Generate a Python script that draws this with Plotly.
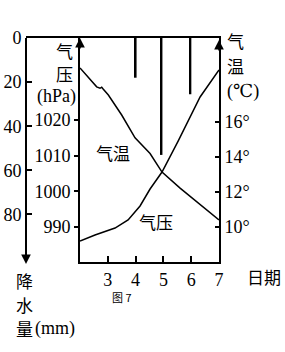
import plotly.graph_objects as go

# ---------------- data ----------------
p_days = [2.0, 2.60, 2.72, 2.78, 2.84, 3.02, 3.50, 3.98, 4.52, 4.95, 5.60, 6.32, 7.0]
pressure = [1034.6, 1029.3, 1028.9, 1029.2, 1028.6, 1027.0, 1021.4, 1015.0, 1010.6, 1005.4, 1000.9, 996.4, 992.0]

t_days = [2.0, 2.54, 3.26, 3.73, 4.16, 4.52, 4.95, 5.34, 5.53, 6.32, 7.0]
temperature = [9.2, 9.54, 9.94, 10.4, 11.2, 12.17, 13.14, 14.29, 14.91, 17.43, 18.97]

rain_days = [4, 4.93, 5.97]
rain_mm = [18, 53, 25.5]

x_ticks = [3, 4, 5, 6, 7]
p_ticks = [990, 1000, 1010, 1020]
t_ticks = [10, 12, 14, 16]
t_labels = ["10°", "12°", "14°", "16°"]
r_ticks = [0, 20, 40, 60, 80]

W, H = 285, 352
def px(x):
    return x / W
def py(y):
    return 1 - y / H

SERIF = "Times New Roman, Liberation Serif, DejaVu Serif, serif"
CJK = "Noto Sans CJK SC"

fig = go.Figure()

fig.add_trace(go.Bar(x=rain_days, y=rain_mm, xaxis="x", yaxis="y3",
                     width=0.07, marker=dict(color="black", line=dict(width=0)),
                     showlegend=False))
fig.add_trace(go.Scatter(x=p_days, y=pressure, xaxis="x", yaxis="y",
                         mode="lines", line=dict(color="black", width=1.5),
                         showlegend=False))
fig.add_trace(go.Scatter(x=t_days, y=temperature, xaxis="x", yaxis="y2",
                         mode="lines", line=dict(color="black", width=1.5),
                         showlegend=False))
fig.add_trace(go.Scatter(x=[1], y=[0], xaxis="x2", yaxis="y3", mode="markers",
                         marker=dict(opacity=0), showlegend=False, hoverinfo="skip"))

ppd = 27.8
x_left = px(80)
x_right = px(219)
x2_left = px(26)

tf = dict(family=SERIF, size=18, color="black")

fig.update_layout(
    width=W, height=H, autosize=False,
    margin=dict(l=0, r=0, t=0, b=0),
    paper_bgcolor="white", plot_bgcolor="rgba(0,0,0,0)",
    showlegend=False,
    font=dict(family=SERIF),
    xaxis=dict(domain=[x_left, x_right], range=[2.0, 7.0], anchor="y",
               showline=True, linecolor="black", linewidth=2,
               ticks="inside", ticklen=6, tickwidth=1.5, tickcolor="black",
               tickvals=x_ticks, ticktext=[str(v) for v in x_ticks],
               tickfont=tf,
               showgrid=False, zeroline=False, fixedrange=True, automargin=False),
    xaxis2=dict(domain=[x2_left, x_right], range=[2 - 54 / ppd, 7.0], anchor="y3",
                side="top", showline=True, linecolor="black", linewidth=2,
                showticklabels=False, ticks="", showgrid=False, zeroline=False,
                automargin=False),
    yaxis=dict(domain=[py(262), py(38)], range=[1020 - 142 / 3.5667, 1020 + 82 / 3.5667],
               anchor="x", side="left", showline=True, linecolor="black", linewidth=2,
               ticks="outside", ticklen=4, tickwidth=1.5, tickcolor="black",
               tickvals=p_ticks, ticktext=[str(v) for v in p_ticks],
               tickfont=tf,
               showgrid=False, zeroline=False, automargin=False),
    yaxis2=dict(domain=[py(262), py(38)], range=[16 - 140 / 17.5, 16 + 84 / 17.5],
                anchor="x", overlaying="y", side="right", showline=True,
                linecolor="black", linewidth=2,
                ticks="inside", ticklen=4, tickwidth=1.5, tickcolor="black",
                tickvals=t_ticks, ticktext=t_labels,
                tickfont=tf,
                showgrid=False, zeroline=False, automargin=False),
    yaxis3=dict(domain=[py(263), py(32)], range=[(263 - 32) / 2.275, 0],
                anchor="free", position=x2_left, side="left", overlaying="y",
                showline=True, linecolor="black", linewidth=2,
                ticks="inside", ticklen=5, tickwidth=1.5, tickcolor="black",
                tickvals=r_ticks, ticktext=[str(v) for v in r_ticks],
                tickfont=tf,
                showgrid=False, zeroline=False, automargin=False),
)

ann = []
def text(x, y, s, size=17, fam=CJK, xanchor="center"):
    ann.append(dict(x=px(x), y=py(y), xref="paper", yref="paper", text=s,
                    showarrow=False, xanchor=xanchor, yanchor="middle",
                    font=dict(family=fam, size=size, color="black")))

def arrow(x, y, dy):
    ann.append(dict(x=px(x), y=py(y), xref="paper", yref="paper", text="",
                    showarrow=True, ax=0, ay=dy, arrowhead=2, arrowsize=1.2,
                    arrowwidth=1.6, arrowcolor="black"))

arrow(80, 38, 12)
arrow(219, 40, 12)
arrow(26, 264, -12)

text(64, 50, "气")
text(64, 73, "压")
text(78, 96, "(hPa)", size=18, fam=SERIF, xanchor="right")
text(235, 41, "气")
text(235, 65, "温")
text(225, 91, "(℃)", size=18, fam=SERIF, xanchor="left")
text(24, 280, "降")
text(24, 304, "水")
text(24, 328, "量")
text(33, 328, "(mm)", size=18, fam=SERIF, xanchor="left")
text(264, 276, "日期")
text(122, 297, "图 7", size=11)
text(113, 152, "气温")
text(156, 221, "气压")

fig.update_layout(annotations=ann)

fig.write_html("out.html")
